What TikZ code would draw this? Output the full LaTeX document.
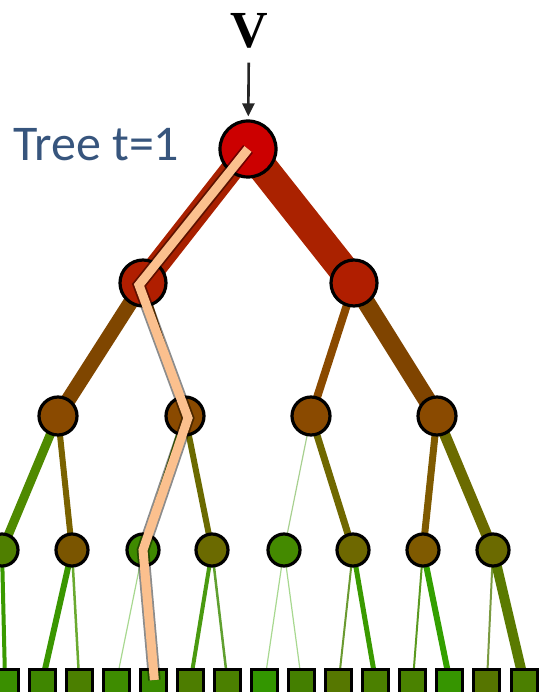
\documentclass[tikz,border=0pt]{standalone}
\usepackage{fontspec}
\usetikzlibrary{arrows.meta}
\usetikzlibrary{backgrounds}
\newfontfamily\treefont{Carlito}
\newfontfamily\headfont{Liberation Serif}

\definecolor{rootred}{HTML}{CC0000}
\definecolor{firstred}{HTML}{B01E00}
\definecolor{secondbrown}{HTML}{8A4A00}
\definecolor{pathpeach}{HTML}{FBC08E}
\definecolor{titleblue}{RGB}{55,85,125}

\tikzset{
	vertex/.style = {circle, draw = black, line width = 3.2pt, inner sep = 0pt},
	leaf/.style = {rectangle, draw = black, line width = 3pt, minimum size = 26pt, inner sep = 0pt},
}

\begin{document}
\begin{tikzpicture}[x = 1pt, y = -1pt]
		\useasboundingbox (0,0) rectangle (544,692);
		\node[inner sep = 0pt, font = \headfont\bfseries\fontsize{52}{52}\selectfont] (v) at (249,31) {V};
		\node[anchor = base west, inner sep = 0pt, text = titleblue, font = \treefont\fontsize{50}{52}\selectfont] (title) at (13,161) {Tree t=1};
		\node[vertex, fill = rootred, minimum size = 56pt] (root) at (248,149) {};
		\node[vertex, fill = firstred, minimum size = 46pt] (l1a) at (143,283) {};
		\node[vertex, fill = firstred, minimum size = 46pt] (l1b) at (354,283) {};
		\foreach \i/\x in {a/58, b/185, c/311, d/437}
			\node[vertex, fill = secondbrown, minimum size = 38pt] (l2\i) at (\x,416) {};
		\foreach \i/\x/\c in {0/2/4F7F00, 1/72/7A5500, 2/143/3F8A00, 3/212/6B6A00, 4/284/448A00, 5/353/6E6800, 6/423/7F5A00, 7/493/6B6A00}
			{\definecolor{nodec}{HTML}{\c}
			\node[vertex, fill = nodec, minimum size = 32pt] (n\i) at (\x,550) {};}
		\foreach \i/\c in {0/3A8F00, 1/3A8F00, 2/3F8600, 3/4B7F00, 4/3E8C00, 5/3A8A00, 6/4D7D00, 7/4B8000, 8/339600, 9/447F00, 10/567700, 11/4B8000, 12/4A8200, 13/369500, 14/567500, 15/4B7F00}
			{\definecolor{leafc}{HTML}{\c}
			\node[leaf, fill = leafc] (k\i) at ({-32 + 37.07*\i},682) {};}
		\draw[-{Triangle[length = 13pt, width = 12pt]}, line width = 2.6pt, black!85, shorten <= 14pt, shorten >= 3pt] (v) -- (root);
		\begin{scope}[on background layer]
			\foreach \a/\b/\w/\c in {root/l1a/23/A82000, root/l1b/30/AA2200,
					l1a/l2a/15/7F4600, l1a/l2b/6/8A4A00, l1b/l2c/8/8A4A00, l1b/l2d/18/7F4400,
					l2a/n0/9/4F8A00, l2a/n1/6/7A6200, l2b/n2/6/4F8A00, l2b/n3/6/6B6A00,
					l2c/n4/1.2/A8D090, l2c/n5/7/706800, l2d/n6/7/7F5A00, l2d/n7/11/6B6B00,
					n0/k0/4/3A9A00, n0/k1/4/3A9A00, n1/k2/6/3A9600, n1/k3/2.5/6AAA30,
					n2/k4/1.2/A8D890, n2/k5/6/3A9A00, n3/k6/4/4A9A10, n3/k7/2.5/60A030,
					n4/k8/1.2/A8D890, n4/k9/1.2/A8D890, n5/k10/2/6A9A30, n5/k11/5/3A9A00,
					n6/k12/2/5A9A20, n6/k13/6/33A000, n7/k14/2/7A9A40, n7/k15/10/5A7A00}
				{\definecolor{edgec}{HTML}{\c}
				\draw[edgec, line width = \w pt] (\a.center) -- (\b.center);}
		\end{scope}
		\draw[black, opacity = 0.45, line width = 12.5pt] (root.center) -- ([shift = {(-4,2)}]l1a.center) -- ([shift = {(3,2)}]l2b.center) -- (n2.center) -- ([shift = {(1,-2)}]k5.center);
		\draw[pathpeach, line width = 9pt] (root.center) -- ([shift = {(-4,2)}]l1a.center) -- ([shift = {(3,2)}]l2b.center) -- (n2.center) -- ([shift = {(1,-2)}]k5.center);
	\end{tikzpicture}
\end{document}
